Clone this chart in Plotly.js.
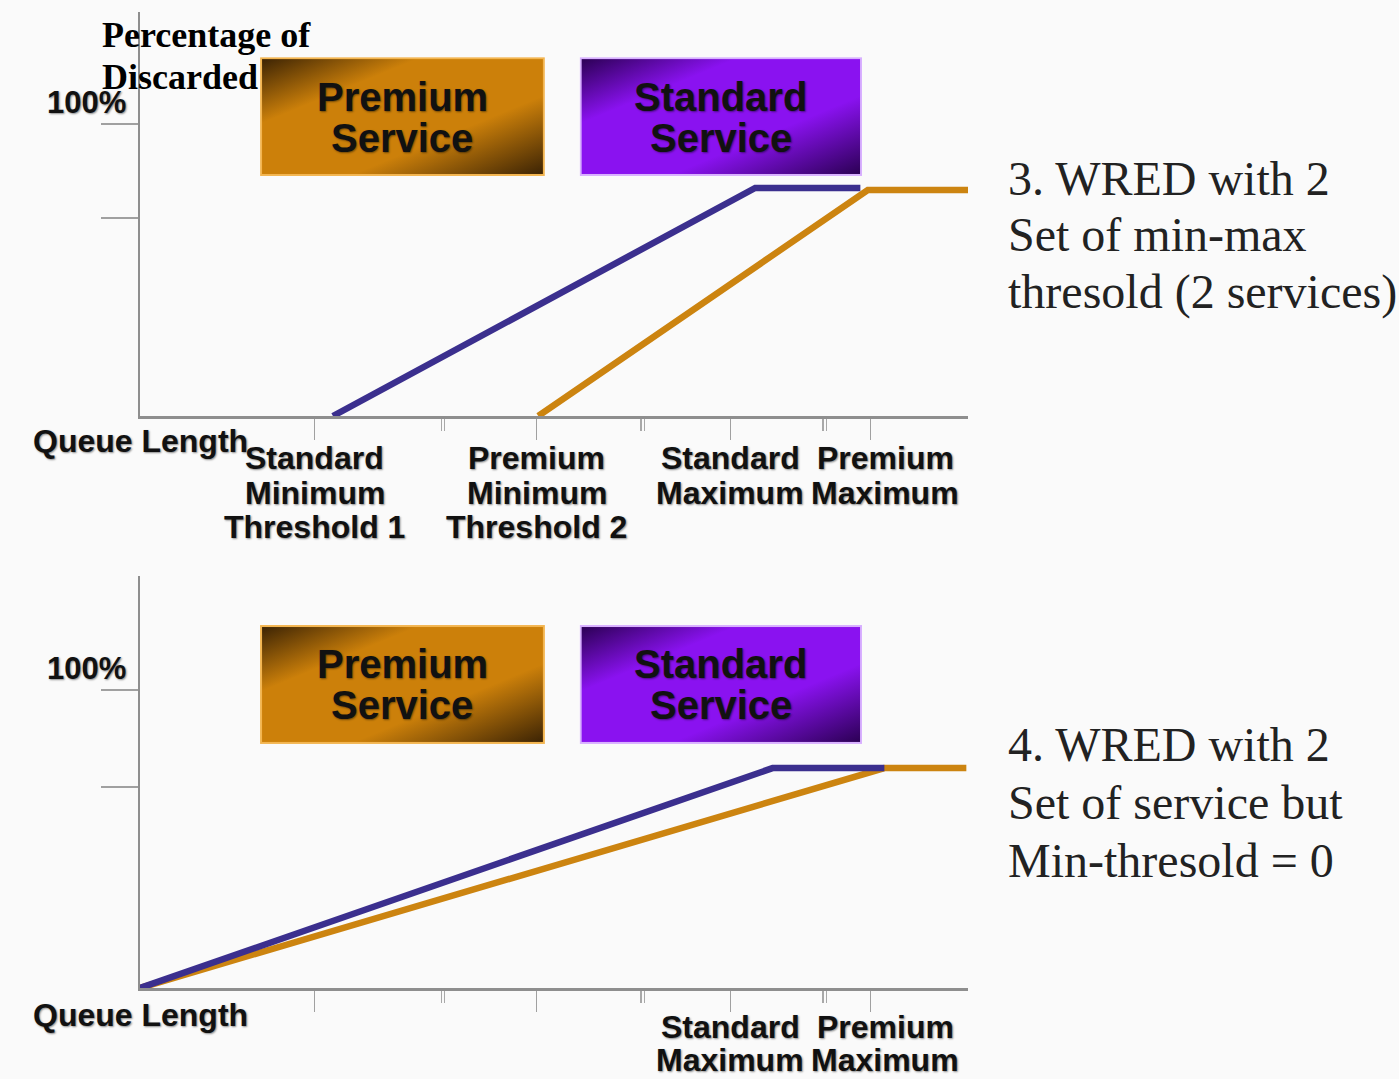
<!DOCTYPE html>
<html>
<head>
<meta charset="utf-8">
<script src="https://cdn.plot.ly/plotly-3.0.1.min.js"></script>
<style>html,body{margin:0;padding:0;background:#fafafa;}#chart{width:1399px;height:1079px;}</style>
</head>
<body>
<div id="chart"></div>
<script>
// ---------- data (queue length 0-100, percentage discarded) ----------
const topStandardX = [23.3, 74.3, 87.0];
const topStandardY = [0, 78.1, 78.1];
const topPremiumX  = [48.1, 87.9, 100];
const topPremiumY  = [0, 77.4, 77.4];

const botStandardX = [0, 76.4, 89.9];
const botStandardY = [0, 73.8, 73.8];
const botPremiumX  = [0, 89.9, 99.8];
const botPremiumY  = [0, 73.8, 73.8];

const topTickVals   = [21.1, 47.9, 71.3, 88.2];
const topTickLabels = [["Standard","Minimum","Threshold 1"],["Premium","Minimum","Threshold 2"],["Standard","Maximum"],["Premium","Maximum"]];
const botTickVals   = [21.1, 47.9, 71.3, 88.2];
const botTickLabels = [[],[],["Standard","Maximum"],["Premium","Maximum"]];
const minorTickVals = [36.4, 36.8, 60.5, 60.9, 82.5, 82.9];
const topYTicks = [67.8, 100];
const botYTicks = [67.4, 100];

const serviceNames = [["Premium","Service"],["Standard","Service"]];
const captionTop = ["3. WRED with 2","Set of min-max","thresold (2 services)"];
const captionBot = ["4. WRED with 2","Set of service but","Min-thresold = 0"];
const yTitle = ["Percentage of","Discarded"];

// ---------- styles ----------
const BLUE = '#3b2f8e', ORANGE = '#cc8410', AXIS = '#8e8e8e';
const W = 1399, H = 1079;
const sans = 'Liberation Sans, Arial, sans-serif';
const serif = 'Liberation Serif, Times New Roman, serif';
const shadow = '1px 1px 2px rgba(0,0,0,0.45)';

function line(x, y, color, xa, ya) {
  return {x: x, y: y, xaxis: xa, yaxis: ya, type: 'scatter', mode: 'lines',
          line: {color: color, width: 6.5}, cliponaxis: false, hoverinfo: 'skip', showlegend: false};
}
const data = [
  line(topStandardX, topStandardY, BLUE, 'x', 'y'),
  line(topPremiumX, topPremiumY, ORANGE, 'x', 'y'),
  line(botPremiumX, botPremiumY, ORANGE, 'x2', 'y2'),
  line(botStandardX, botStandardY, BLUE, 'x2', 'y2')
];

function xAxis(domain, anchor, tickvals) {
  return {domain: domain, anchor: anchor, range: [0, 100], showline: true, linecolor: AXIS, linewidth: 2.5,
          showgrid: false, zeroline: false, tickmode: 'array', tickvals: tickvals, ticks: 'outside',
          ticklen: 21, tickwidth: 1.5, tickcolor: '#a0a0a0', showticklabels: false, fixedrange: true,
          minor: {tickmode: 'array', tickvals: minorTickVals, ticks: 'outside', ticklen: 12, tickwidth: 1.2, tickcolor: '#a8a8a8', showgrid: false}};
}
function yAxis(domain, anchor, range, tickvals) {
  return {domain: domain, anchor: anchor, range: range, showline: true, linecolor: AXIS, linewidth: 2.5,
          showgrid: false, zeroline: false, tickmode: 'array', tickvals: tickvals, ticks: 'outside',
          ticklen: 37, tickwidth: 1.5, tickcolor: '#a0a0a0', showticklabels: false, fixedrange: true};
}

function gradBox(dark, mid, border) {
  const svg = '<svg xmlns="http://www.w3.org/2000/svg" width="285" height="119" viewBox="0 0 285 119" preserveAspectRatio="none">' +
    '<defs><linearGradient id="g" x1="0" y1="0" x2="1" y2="1">' +
    '<stop offset="0" stop-color="' + dark + '"/><stop offset="0.28" stop-color="' + mid + '"/>' +
    '<stop offset="0.66" stop-color="' + mid + '"/><stop offset="1" stop-color="' + dark + '"/>' +
    '</linearGradient></defs><rect x="1" y="1" width="283" height="117" fill="url(#g)" stroke="' + border + '" stroke-width="2"/></svg>';
  return 'data:image/svg+xml;base64,' + btoa(svg);
}
const premiumImg = gradBox('#3a2204', '#cc800a', '#f3b550');
const standardImg = gradBox('#2a0052', '#8a12f0', '#d8b0ff');

function boxImg(src, x0, x1, yTop, yBot, xa, ya) {
  return {source: src, xref: xa, yref: ya, x: x0, y: yTop, sizex: x1 - x0, sizey: yTop - yBot,
          xanchor: 'left', yanchor: 'top', sizing: 'stretch', layer: 'above'};
}
const images = [
  boxImg(premiumImg, 14.5, 48.9, 122.9, 82.2, 'x', 'y'),
  boxImg(standardImg, 53.1, 87.2, 122.9, 82.2, 'x', 'y'),
  boxImg(premiumImg, 14.5, 48.9, 121.8, 81.9, 'x2', 'y2'),
  boxImg(standardImg, 53.1, 87.2, 121.8, 81.9, 'x2', 'y2')
];

const annotations = [];
function ann(o) { annotations.push(Object.assign({showarrow: false, yanchor: 'middle'}, o)); }

// box labels
[['x','y',102.5],['x2','y2',101.9]].forEach(function(p){
  [[31.7, serviceNames[0]], [70.15, serviceNames[1]]].forEach(function(b){
    b[1].forEach(function(t, i){
      ann({text: t, xref: p[0], yref: p[1], x: b[0], y: p[2], yshift: (i === 0 ? 20 : -21),
           font: {family: sans, size: 40, color: '#111', weight: 'bold', shadow: shadow}});
    });
  });
});

// tick labels built from arrays
function tickLabels(vals, labels, xa, ya, first, step) {
  vals.forEach(function(v, k){
    labels[k].forEach(function(t, i){
      ann({text: t, xref: xa, yref: ya, x: v, y: 0, yshift: -(first + i * step), xshift: (k === 3 ? 15 : 0),
           font: {family: sans, size: 32, color: '#111', weight: 'bold', shadow: shadow}});
    });
  });
}
tickLabels(topTickVals, topTickLabels, 'x', 'y', 42, 34.5);
tickLabels(botTickVals, botTickLabels, 'x2', 'y2', 39, 33);

// queue length & 100% labels
ann({text: 'Queue Length', xref: 'x', yref: 'y', x: 0, y: 0, yshift: -25,
     font: {family: sans, size: 32, color: '#111', weight: 'bold', shadow: shadow}});
ann({text: 'Queue Length', xref: 'x2', yref: 'y2', x: 0, y: 0, yshift: -27,
     font: {family: sans, size: 32, color: '#111', weight: 'bold', shadow: shadow}});
ann({text: '100%', xref: 'x', yref: 'y', x: 0, y: 100, xshift: -54, yshift: 21,
     font: {family: sans, size: 31, color: '#111', weight: 'bold', shadow: shadow}});
ann({text: '100%', xref: 'x2', yref: 'y2', x: 0, y: 100, xshift: -54, yshift: 22,
     font: {family: sans, size: 31, color: '#111', weight: 'bold', shadow: shadow}});

// y title
yTitle.forEach(function(t, i){
  ann({text: t, xref: 'paper', yref: 'paper', x: 100 / W, xanchor: 'left', y: 1 - (35 + i * 42) / H,
       font: {family: serif, size: 36, color: '#000', weight: 'bold'}});
});

// captions
captionTop.forEach(function(t, i){
  ann({text: t, xref: 'paper', yref: 'paper', x: 1006 / W, xanchor: 'left', y: 1 - (178 + i * 57) / H,
       font: {family: serif, size: 48, color: '#222'}});
});
captionBot.forEach(function(t, i){
  ann({text: t, xref: 'paper', yref: 'paper', x: 1006 / W, xanchor: 'left', y: 1 - (744 + i * 58) / H,
       font: {family: serif, size: 48, color: '#222'}});
});

const layout = {
  width: W, height: H, margin: {l: 0, r: 0, t: 0, b: 0},
  paper_bgcolor: '#fafafa', plot_bgcolor: 'rgba(0,0,0,0)', showlegend: false,
  xaxis: xAxis([140 / W, 968 / W], 'y', topTickVals),
  yaxis: yAxis([1 - 416 / H, 1 - 12 / H], 'x', [0, 404 / 2.92], topYTicks),
  xaxis2: xAxis([140 / W, 968 / W], 'y2', botTickVals),
  yaxis2: yAxis([1 - 988 / H, 1 - 576 / H], 'x2', [0, 412 / 2.98], botYTicks),
  images: images,
  annotations: annotations
};

Plotly.newPlot('chart', data, layout, {staticPlot: true, displayModeBar: false});
</script>
</body>
</html>
